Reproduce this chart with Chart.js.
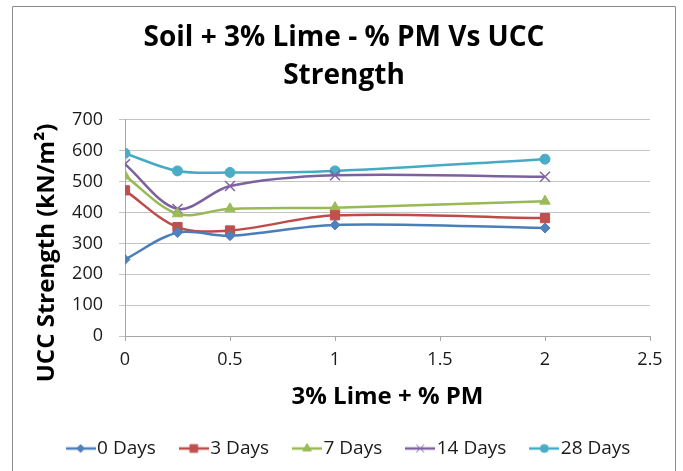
<!DOCTYPE html>
<html>
<head>
<meta charset="utf-8">
<script src="https://cdn.jsdelivr.net/npm/chart.js@4.4.1/dist/chart.umd.min.js"></script>
<style>
  html, body { margin: 0; padding: 0; background: #ffffff; }
  #wrap { width: 683px; height: 471px; }
</style>
</head>
<body>
<div id="wrap"><canvas id="ucc" width="683" height="471"></canvas></div>
<script>
// Lime + PM content (%) on the x axis
const pmContent = [0, 0.25, 0.5, 1, 2];

// UCC strength (kN/m²) for each curing period
const days0  = [248, 335, 325, 360, 350];
const days3  = [472, 353, 342, 391, 382];
const days7  = [519, 396, 412, 416, 437];
const days14 = [557, 412, 486, 521, 516];
const days28 = [592, 535, 530, 535, 573];

const seriesLabels = ['0 Days', '3 Days', '7 Days', '14 Days', '28 Days'];

// axis ticks
const xTicks = [0, 0.5, 1, 1.5, 2, 2.5];
const yTicks = [0, 100, 200, 300, 400, 500, 600, 700];

const chartTitle = ['Soil + 3% Lime - % PM Vs UCC', 'Strength'];
const xTitle = '3% Lime + % PM';
const yTitle = 'UCC Strength (kN/m²)';

const FONT = '"Open Sans", Lato, sans-serif';

const styles = [
  { line: '#4A7EBB', mark: '#4F81BD', shape: 'rectRot',  r: 5,   lr: 4,   bw: 1 },
  { line: '#BE4B48', mark: '#C0504D', shape: 'rect',     r: 6.5, lr: 5.5, bw: 1 },
  { line: '#98B954', mark: '#9BBB59', shape: 'triangle', r: 6,   lr: 5,   bw: 1 },
  { line: '#7D60A0', mark: '#8064A2', shape: 'crossRot', r: 7,   lr: 5.5, bw: 1.5 },
  { line: '#46AAC5', mark: '#4BACC6', shape: 'circle',   r: 5,   lr: 4,   bw: 1 }
];

const values = [days0, days3, days7, days14, days28];

// legend swatch: short line with the series marker in the middle
function legendIcon(st) {
  const c = document.createElement('canvas');
  c.width = 30; c.height = 14;
  const g = c.getContext('2d');
  g.strokeStyle = st.line;
  g.lineWidth = 2.5;
  g.beginPath(); g.moveTo(0, 7); g.lineTo(30, 7); g.stroke();
  g.fillStyle = st.mark;
  g.strokeStyle = st.mark;
  g.lineWidth = 1;
  Chart.helpers.drawPoint(g, { pointStyle: st.shape, radius: st.lr, rotation: 0, borderWidth: 1 }, 15, 7);
  return c;
}

const datasets = values.map((vals, i) => ({
  label: seriesLabels[i],
  data: vals.map((v, j) => ({ x: pmContent[j], y: v })),
  borderColor: styles[i].line,
  backgroundColor: styles[i].mark,
  borderWidth: 2.5,
  tension: 0.33,
  fill: false,
  pointStyle: styles[i].shape,
  pointRadius: styles[i].r,
  pointBackgroundColor: styles[i].mark,
  pointBorderColor: styles[i].mark,
  pointBorderWidth: styles[i].bw
}));

const icons = styles.map(legendIcon);

// outer chart frame and white background
const framePlugin = {
  id: 'frame',
  beforeDraw(chart) {
    const ctx = chart.ctx;
    ctx.save();
    ctx.fillStyle = '#ffffff';
    ctx.fillRect(0, 0, chart.width, chart.height);
    ctx.strokeStyle = '#8a8a8a';
    ctx.lineWidth = 1;
    ctx.beginPath();
    ctx.moveTo(12.5, chart.height);
    ctx.lineTo(12.5, 6.5);
    ctx.lineTo(675.5, 6.5);
    ctx.lineTo(675.5, chart.height);
    ctx.stroke();
    ctx.restore();
  },
  // centre title and legend within the frame rather than the plot
  afterLayout(chart) {
    if (chart.titleBlock) {
      chart.titleBlock.left = 13;
      chart.titleBlock.right = 675;
    }
    if (chart.legend) {
      chart.legend.left = 21;
      chart.legend.right = 683;
      chart.legend.width = 662;
    }
  }
};

new Chart(document.getElementById('ucc'), {
  type: 'line',
  data: { datasets },
  plugins: [framePlugin],
  options: {
    responsive: false,
    animation: false,
    layout: { padding: { left: 13, right: 33, top: 6, bottom: 3 } },
    plugins: {
      title: {
        display: true,
        text: chartTitle,
        color: '#000000',
        font: { family: FONT, size: 28, weight: 'bold', lineHeight: 1.357 },
        padding: { top: 13, bottom: 25 }
      },
      legend: {
        display: true,
        position: 'bottom',
        labels: {
          usePointStyle: true,
          pointStyleWidth: 14,
          padding: 31,
          color: '#1a1a1a',
          font: { family: FONT, size: 19 },
          generateLabels() {
            return seriesLabels.map((t, i) => ({
              text: t,
              pointStyle: icons[i],
              fillStyle: styles[i].mark,
              strokeStyle: styles[i].line,
              lineWidth: 0,
              hidden: false,
              datasetIndex: i,
              fontColor: '#1a1a1a'
            }));
          }
        }
      },
      tooltip: { enabled: false }
    },
    scales: {
      x: {
        type: 'linear',
        min: 0,
        max: 2.5,
        afterFit(scale) { scale.height = 72; },
        afterBuildTicks(scale) { scale.ticks = xTicks.map(v => ({ value: v })); },
        ticks: {
          padding: 8,
          color: '#1a1a1a',
          font: { family: FONT, size: 18 },
          callback: v => String(v)
        },
        grid: { drawOnChartArea: false, drawTicks: true, tickLength: 5, color: '#a6a6a6' },
        border: { display: true, color: '#a6a6a6', width: 1 },
        title: {
          display: true,
          text: xTitle,
          color: '#000000',
          font: { family: FONT, size: 24, weight: 'bold' },
          padding: { top: 0, bottom: -4 }
        }
      },
      y: {
        min: 0,
        max: 700,
        afterFit(scale) { scale.width = 112; },
        afterBuildTicks(scale) { scale.ticks = yTicks.map(v => ({ value: v })); },
        ticks: {
          padding: 16,
          color: '#1a1a1a',
          font: { family: FONT, size: 18 },
          callback: v => String(v)
        },
        grid: { drawOnChartArea: true, drawTicks: true, tickLength: 6, color: '#c4c4c4' },
        border: { display: true, color: '#a6a6a6', width: 1 },
        title: {
          display: true,
          text: yTitle + '\u00a0'.repeat(8),
          color: '#000000',
          font: { family: FONT, size: 24, weight: 'bold' },
          padding: { top: 20, bottom: 0 }
        }
      }
    }
  }
});
</script>
</body>
</html>
